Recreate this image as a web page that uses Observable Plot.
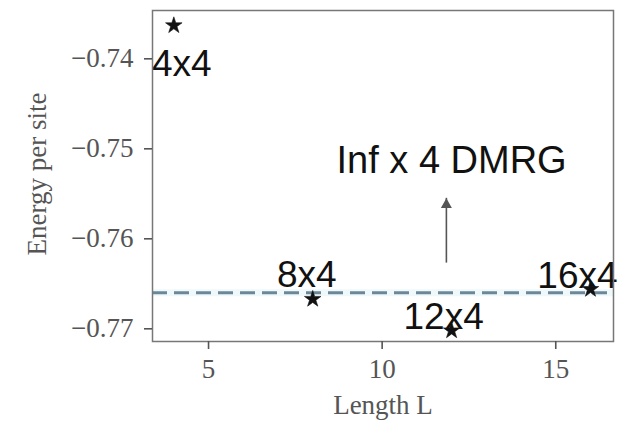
<!DOCTYPE html>
<html>
<head>
<meta charset="utf-8">
<script src="https://cdn.jsdelivr.net/npm/d3@7"></script>
<script src="https://cdn.jsdelivr.net/npm/@observablehq/plot@0.6"></script>
<style>
  body { margin: 0; background: #fff; }
</style>
</head>
<body>
<div id="chart"></div>
<script>
// Cluster sizes, their lengths L and the energy per site
const sizes = ["4x4", "8x4", "12x4", "16x4"];
const lengths = [4, 8, 12, 16];
const energies = [-0.7363, -0.7667, -0.7702, -0.7656];

// Infinite-length DMRG reference energy
const dmrgEnergy = -0.7660;
const dmrgLabel = "Inf x 4 DMRG";
const noteX = [12.0];
const noteY = [-0.7527];
const arrowX = [11.85];
const arrowFromY = [-0.7627];
const arrowToY = [-0.7555];

// Axis ticks
const xTicks = [5, 10, 15];
const yTicks = [-0.74, -0.75, -0.76, -0.77];

// Size label offsets from each star, in pixels
const labelDx = [8, -6, -8, -13];
const labelDy = [50, -12, -2, -1];

const points = sizes.map((s, i) => ({size: s, L: lengths[i], E: energies[i]}));

const serif = "'Liberation Serif', 'DejaVu Serif', serif";
const sans = "'Liberation Sans', Arial, sans-serif";

const chart = Plot.plot({
  width: 630,
  height: 424,
  marginLeft: 152,
  marginRight: 17,
  marginTop: 10,
  marginBottom: 83,
  style: {background: "#fff", fontFamily: serif},
  x: {domain: [3.386, 16.663]},
  y: {domain: [-0.77141, -0.73463]},
  marks: [
    // DMRG reference line, with a soft halo
    Plot.ruleY([dmrgEnergy], {stroke: "#d6edf5", strokeWidth: 7, strokeOpacity: 0.4}),
    Plot.ruleY([dmrgEnergy], {stroke: "#6c8898", strokeWidth: 3, strokeDasharray: "15,7"}),

    // Arrow pointing at the DMRG label
    Plot.ruleX([0], {x: () => arrowX[0], y1: () => arrowFromY[0], y2: () => arrowToY[0], stroke: "#555", strokeWidth: 1.6}),
    Plot.dot([0], {x: () => arrowX[0], y: () => arrowToY[0], symbol: "triangle", r: 4.1, dy: 6.4, fill: "#555", stroke: "none"}),
    Plot.text([dmrgLabel], {x: () => noteX[0], y: () => noteY[0], text: d => d, textAnchor: "middle", lineAnchor: "bottom", fontSize: 38, fontFamily: sans, fill: "#111"}),

    // Energy per site for each cluster
    Plot.dot(points, {x: "L", y: "E", symbol: "star", r: 5.2, fill: "#111", stroke: "#111", strokeWidth: 0.6}),
    ...points.map((p, i) => Plot.text([p], {
      x: "L", y: "E", text: "size",
      dx: labelDx[i], dy: labelDy[i],
      textAnchor: "middle", lineAnchor: "bottom",
      fontSize: 37, fontFamily: sans, fill: "#111"
    })),

    Plot.frame({stroke: "#777", strokeWidth: 1.5}),

    Plot.axisX({ticks: xTicks, tickSize: 8, tickPadding: 9, tickFormat: d => String(d), label: null,
      stroke: "#555", strokeWidth: 1.6, fill: "#555", fontSize: 27, fontFamily: serif}),
    Plot.axisY({ticks: yTicks, tickSize: 8, tickPadding: 11, tickFormat: d3.format(".2f"), label: null,
      stroke: "#555", strokeWidth: 1.6, fill: "#555", fontSize: 27, fontFamily: serif}),

    // Axis titles
    Plot.text(["Length L"], {frameAnchor: "bottom", text: d => d, dy: 72, lineAnchor: "bottom",
      fontSize: 27, fontFamily: serif, fill: "#555"}),
    Plot.text(["Energy per site"], {frameAnchor: "left", text: d => d, dx: -115, dy: -2, rotate: -90,
      lineAnchor: "middle", textAnchor: "middle", fontSize: 27, fontFamily: serif, fill: "#555"})
  ]
});

document.getElementById("chart").appendChild(chart);
</script>
</body>
</html>
